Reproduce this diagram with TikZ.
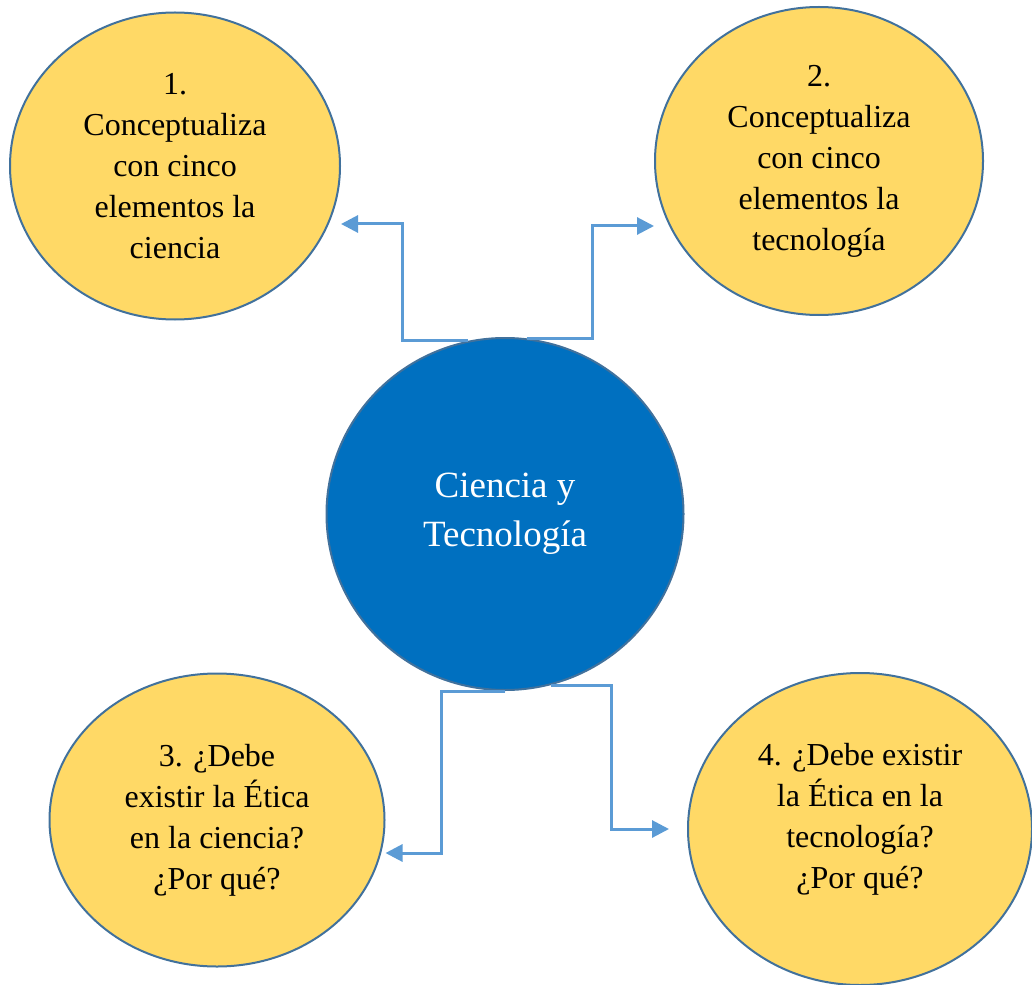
\documentclass[tikz,border=0pt]{standalone}
\usepackage{fontspec}
\setmainfont{Liberation Serif}
\usepackage{tikz}
\usetikzlibrary{shapes.geometric, arrows.meta}

\definecolor{ideaYellow}{HTML}{FFD966}
\definecolor{rimBlue}{HTML}{41719C}
\definecolor{coreBlue}{HTML}{0070C0}
\definecolor{linkBlue}{HTML}{5B9BD5}

\begin{document}
\begin{tikzpicture}[x=1pt, y=-1pt,
  idea/.style={draw=rimBlue, line width=2pt, fill=ideaYellow, ellipse, inner sep=0pt, align=center, font=\fontsize{32}{41}\selectfont},
  link/.style={draw=linkBlue, line width=3pt, -{Triangle[length=17pt, width=17pt]}}]
\useasboundingbox (0,0) rectangle (1032,984);

\node (c1) [idea, minimum width=330pt, minimum height=307pt] at (175,166) {1.\\Conceptualiza\\con cinco\\elementos la\\ciencia};
\node (c2) [idea, minimum width=328pt, minimum height=308pt] at (819,161) {2.\\Conceptualiza\\con cinco\\elementos la\\tecnología};
\node (c3) [idea, minimum width=335pt, minimum height=293pt] at (217,820) {3. ¿Debe\\existir la Ética\\en la ciencia?\\¿Por qué?};
\node (c4) [idea, minimum width=344pt, minimum height=312pt] at (860,829) {4. ¿Debe existir\\la Ética en la\\tecnología?\\¿Por qué?\\[-15pt]\mbox{}};
\node (core) [draw=rimBlue, line width=2pt, fill=coreBlue, ellipse, minimum width=357pt, minimum height=352pt, text=white, align=center, font=\fontsize{37}{49}\selectfont] at (505,514) {Ciencia y\\Tecnología};

% bends of the connectors
\coordinate (bendA) at (402,224);
\coordinate (bendB) at (592,226);
\coordinate (bendC) at (441,853);
\coordinate (bendD) at (611,829);
\coordinate (tipD) at ([xshift=-18pt]c4.west);

\draw[link] (core.102) -| (bendA) -- (c1.east |- bendA);
\draw[link] (core.83) -| (bendB) -- (c2.west |- bendB);
\draw[link] (core.south) -| (bendC) -- (c3.east |- bendC);
\draw[link] (core.-75) -| (bendD) -- (tipD);
\end{tikzpicture}
\end{document}
